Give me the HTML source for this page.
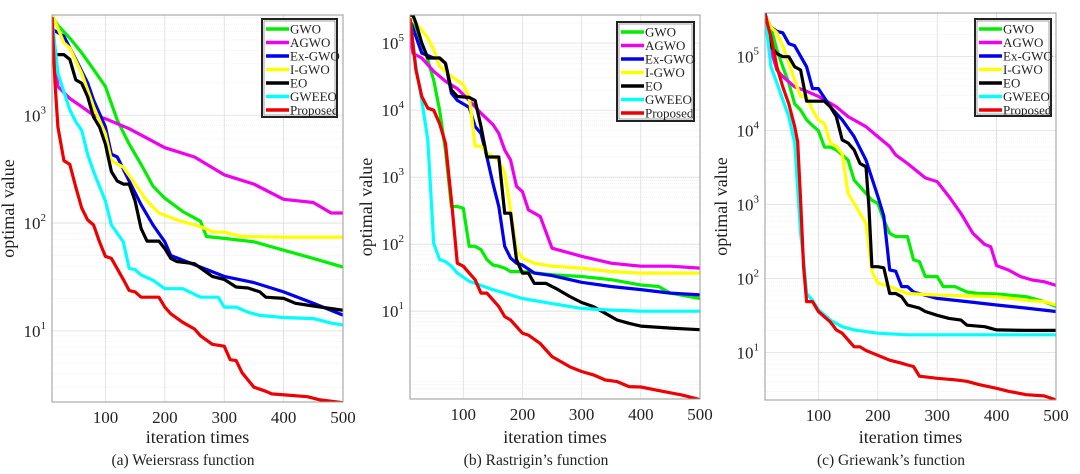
<!DOCTYPE html>
<html><head><meta charset="utf-8">
<style>
html,body{margin:0;padding:0;background:#fff;}
svg{display:block;}
svg text{font-family:"Liberation Serif","Times New Roman",serif;}
</style></head>
<body>
<svg id="fig" width="1080" height="474" viewBox="0 0 1080 474" xmlns="http://www.w3.org/2000/svg"></svg>
<script>
const seriesNames = ["GWO","AGWO","Ex-GWO","I-GWO","EO","GWEEO","Proposed"];
const seriesColors = ["#00ee00","#ee00ee","#0000ee","#ffff00","#000000","#00ffff","#ee0000"];
const xTicks = [100,200,300,400,500];

const wGWO=[[10,8300],[20,6800],[40,5200],[60,3800],[80,2650],[100,1850],[120,900],[140,540],[160,350],[180,220],[200,170],[230,128],[260,104],[270,75],[300,72],[350,67],[400,56],[450,47],[500,39]];
const wAGWO=[[10,5800],[20,1850],[40,1430],[60,1200],[80,1000],[100,930],[140,750],[200,500],[250,410],[300,280],[350,230],[400,166],[450,155],[480,124],[500,124]];
const wEx=[[10,6300],[30,5400],[50,3300],[70,2000],[80,1380],[100,780],[110,435],[120,410],[140,245],[160,148],[180,96],[200,67],[210,50],[250,41],[300,32],[350,28],[400,23],[450,18],[500,14]];
const wI=[[10,8700],[30,4700],[40,4200],[60,2450],[80,1200],[100,670],[110,380],[130,330],[150,230],[170,160],[190,124],[220,107],[260,93],[280,83],[300,82],[330,75],[400,74],[500,74]];
const wEO=[[10,8100],[15,3650],[30,3650],[40,3300],[50,2130],[60,1980],[70,1490],[80,960],[90,780],[100,540],[110,300],[120,245],[130,230],[140,230],[150,160],[160,89],[170,68],[190,68],[200,58],[210,47],[220,44],[250,42],[280,32],[300,30],[320,25.5],[340,25],[360,23],[370,20.5],[400,20],[420,18],[450,17],[500,15.5]];
const wGWEEO=[[10,7800],[20,2450],[40,1120],[50,870],[60,725],[70,435],[80,300],[100,160],[110,96],[130,67],[140,38],[150,37],[160,33],[180,29.5],[200,24.6],[230,24.6],[260,20.5],[290,20.5],[300,16.6],[320,16.6],[340,14.9],[360,13.9],[400,13.3],[450,13],[480,11.8],[500,11.3]];
const wProp=[[10,8100],[15,2000],[20,780],[30,380],[40,350],[50,215],[60,138],[70,107],[80,96],[90,67],[100,49],[110,47],[130,30],[140,23.7],[150,23],[160,20.5],[190,20.5],[200,16.6],[210,14.4],[230,12],[250,10.4],[260,9],[280,7.5],[300,7.2],[310,5.4],[320,5.3],[330,4.1],[350,3.0],[370,2.75],[380,2.6],[440,2.45],[460,2.3],[500,2.15]];

const rGWO=[[10,2.2e5],[20,1.6e5],[30,1e5],[40,5.6e4],[50,2.8e4],[60,1e4],[70,2500],[80,365],[90,365],[100,345],[110,93],[120,93],[130,83],[140,59],[150,49],[160,47],[170,44],[180,39],[200,39],[250,35],[300,33],[350,29.5],[400,24.6],[430,23.4],[450,18.6],[500,15.5]];
const rAGWO=[[10,1.4e5],[15,7e4],[30,6e4],[50,3.8e4],[70,2.7e4],[90,2.1e4],[110,1.4e4],[130,9000],[150,6100],[160,4500],[170,2550],[180,1800],[190,730],[200,610],[210,325],[220,290],[230,260],[250,87],[270,78],[300,66],[350,52],[400,47],[450,47],[500,44]];
const rEx=[[10,2.2e5],[20,1.26e5],[30,7.1e4],[50,6e4],[60,6e4],[70,5e4],[80,1.8e4],[90,1.4e4],[110,1.1e4],[120,5700],[130,4500],[140,2000],[150,810],[160,365],[170,93],[180,62],[190,52],[200,49],[220,37],[250,34],[300,27],[350,23.4],[400,21],[450,18.6],[500,17.5]];
const rI=[[10,2.35e5],[20,2e5],[40,1.2e5],[50,8e4],[60,4.5e4],[80,3.2e4],[100,2.4e4],[110,1.6e4],[120,2900],[130,2900],[140,2300],[160,1800],[170,1150],[180,325],[190,83],[200,62],[220,52],[250,47],[300,44],[350,39],[400,37],[500,37]];
const rEO=[[10,2.6e5],[15,2.6e5],[20,2e5],[30,1e5],[40,6e4],[60,6e4],[70,5e4],[80,2e4],[90,1.6e4],[110,1.55e4],[120,1.4e4],[130,5700],[140,2000],[160,2000],[170,290],[180,290],[190,59],[200,37],[210,37],[220,26],[240,26],[260,21],[280,16.6],[300,13.5],[320,11.7],[340,9.3],[360,7.4],[380,6.6],[400,6.0],[450,5.6],[500,5.3]];
const rGWEEO=[[10,2.35e5],[20,4.5e4],[30,1.4e4],[40,3600],[50,103],[60,59],[70,55],[80,47],[90,37],[110,28],[150,21],[200,15.5],[250,13],[300,11],[350,10.4],[400,10],[500,10]];
const rProp=[[10,2.35e5],[20,4e4],[30,1.6e4],[40,1.07e4],[50,1e4],[60,6300],[70,3200],[80,460],[90,52],[100,47],[110,37],[120,29.5],[130,18.6],[140,18.6],[160,11.7],[170,8.3],[180,7.4],[200,4.7],[210,4.4],[230,3.3],[250,2.1],[260,1.87],[280,1.48],[300,1.26],[320,1.12],[340,0.94],[360,0.89],[380,0.75],[400,0.74],[440,0.63],[470,0.56],[500,0.48]];

const gGWO=[[10,3.7e5],[20,2.5e5],[30,1.23e5],[40,7.3e4],[50,4.4e4],[60,2.3e4],[70,1.9e4],[80,1.4e4],[90,1.17e4],[100,1e4],[110,6000],[120,6000],[130,5500],[140,4700],[150,4000],[160,2150],[170,1750],[180,1420],[190,1150],[200,1040],[210,620],[220,410],[230,370],[250,370],[260,180],[270,170],[280,107],[300,107],[310,78],[330,78],[350,66],[370,63],[400,62],[450,57],[480,49],[500,42]];
const gAGWO=[[10,3.5e5],[20,1.23e5],[30,6.6e4],[40,5.4e4],[60,3.9e4],[80,3.4e4],[100,2.9e4],[130,2.1e4],[150,1.55e4],[180,1.13e4],[200,8300],[220,6100],[230,4700],[250,3600],[280,2300],[300,2050],[320,1280],[340,760],[360,410],[380,290],[390,270],[400,150],[420,131],[440,107],[460,96],[480,91],[500,81]];
const gEx=[[10,3.7e5],[20,2.5e5],[30,2.2e5],[40,2.1e5],[50,1.5e5],[60,1.4e5],[80,7.3e4],[90,3.7e4],[100,3.7e4],[120,2.1e4],[140,1.4e4],[160,8300],[180,4000],[200,1300],[210,700],[220,131],[230,126],[240,78],[250,78],[260,66],[300,54],[350,49],[400,44],[450,40],[500,36]];
const gI=[[10,3.7e5],[20,2.5e5],[30,2.1e5],[40,1.37e5],[50,8.1e4],[60,4.8e4],[70,2.9e4],[80,2.9e4],[90,1.9e4],[100,1.4e4],[110,1.25e4],[120,6800],[130,6100],[140,4900],[150,1420],[160,1040],[170,760],[180,560],[190,126],[200,87],[220,78],[250,63],[300,60],[400,57],[450,51],[480,49],[500,44]];
const gEO=[[10,3.9e5],[15,2.5e5],[20,1.37e5],[30,1.1e5],[40,1e5],[50,1e5],[60,7.3e4],[70,6.6e4],[80,2.5e4],[110,2.5e4],[120,2.1e4],[130,1.55e4],[140,7500],[150,6800],[160,5500],[170,3600],[180,3250],[185,940],[190,145],[200,145],[210,140],[220,63],[230,63],[240,57],[250,44],[270,40],[280,36],[300,32],[320,29],[340,27.5],[350,23.5],[380,22.4],[400,20.3],[450,20],[500,20]];
const gGWEEO=[[10,3.7e5],[20,7.3e4],[30,4.4e4],[40,2.6e4],[50,1.55e4],[60,6800],[70,410],[75,180],[80,63],[90,51],[100,38],[120,27.5],[140,22.4],[160,20.3],[200,18.3],[250,17.4],[300,17.4],[500,17.4]];
const gProp=[[10,3.7e5],[20,1.86e5],[30,7.3e4],[40,3.9e4],[50,2.3e4],[60,1.13e4],[65,7000],[70,1150],[75,145],[80,49],[90,49],[100,36],[120,26],[130,20.3],[140,18.3],[160,12],[170,12],[180,10.7],[200,9.2],[220,7.9],[240,7.2],[250,6.8],[260,6.5],[270,4.8],[300,4.5],[330,4.3],[350,4.1],[370,3.7],[400,3.3],[420,3.0],[450,2.7],[480,2.6],[500,2.3]];

const panels=[
 {id:"weierstrass",L:52,R:343,T:15,B:402,xmin:10,xmax:500,lmin:0.34,lmax:3.93,dec:[1,2,3],
  series:[wGWO,wAGWO,wEx,wI,wEO,wGWEEO,wProp],leg:[262,19,75,98],cap:"(a)  Weiersrass  function",capx:183},
 {id:"rastrigin",L:410,R:700,T:15,B:399,xmin:10,xmax:500,lmin:-0.31,lmax:5.42,dec:[1,2,3,4,5],
  series:[rGWO,rAGWO,rEx,rI,rEO,rGWEEO,rProp],leg:[617,22,77,99],cap:"(b)  Rastrigin’s  function",capx:536},
 {id:"griewank",L:765,R:1056,T:13,B:400,xmin:10,xmax:500,lmin:0.36,lmax:5.59,dec:[1,2,3,4,5],
  series:[gGWO,gAGWO,gEx,gI,gEO,gGWEEO,gProp],leg:[975,19,76,97],cap:"(c)  Griewank’s  function",capx:891}
];
const NS="http://www.w3.org/2000/svg";
const FONT="Liberation Serif, Times New Roman, serif";
const svg=document.getElementById('fig');
function mk(tag,attrs,parent){const e=document.createElementNS(NS,tag);for(const k in attrs)e.setAttribute(k,attrs[k]);if(tag==='text')e.setAttribute('font-family',FONT);(parent||svg).appendChild(e);return e;}

panels.forEach(p=>{
  const g=mk('g',{});
  
  
  const xs=v=>p.L+(v-p.xmin)/(p.xmax-p.xmin)*(p.R-p.L);
  const ys=v=>p.B-(Math.log10(v)-p.lmin)/(p.lmax-p.lmin)*(p.B-p.T);
  for(let d=Math.floor(p.lmin);d<=Math.ceil(p.lmax);d++){
    for(let m=2;m<=9;m++){const lv=d+Math.log10(m);if(lv<=p.lmin||lv>=p.lmax)continue;
      const y=ys(Math.pow(10,lv));
      const l=mk('line',{x1:p.L,x2:p.R,y1:y,y2:y,stroke:"#ececec","stroke-width":0.7,"stroke-dasharray":"1,1"},g);
      
      
    }
  }
  p.dec.forEach(d=>{const y=ys(Math.pow(10,d));
    const l=mk('line',{x1:p.L,x2:p.R,y1:y,y2:y,stroke:"#dddddd","stroke-width":0.8},g);
    
    
    const t=mk('text',{x:p.L-6,y:y+6,"text-anchor":"end","font-size":17,fill:"#222"},g);
    
    
    t.textContent="10";
    const s=mk('tspan',{dy:-8,"font-size":11},t);s.textContent=d;
  });
  xTicks.forEach(v=>{const x=xs(v);
    const l=mk('line',{x1:x,x2:x,y1:p.T,y2:p.B,stroke:"#dddddd","stroke-width":0.8},g);
    
    
    const t=mk('text',{x:x,y:p.B+21,"text-anchor":"middle","font-size":17,fill:"#222"},g);
    
    
    t.textContent=v;
  });
  const clip=mk('clipPath',{id:'c'+p.id},g);mk('rect',{x:p.L,y:p.T,width:p.R-p.L,height:p.B-p.T},clip);
  const lg=mk('g',{"clip-path":"url(#c"+p.id+")"},g);
  p.series.forEach((s,i)=>{
    const pl=mk('polyline',{points:s.map(q=>xs(q[0]).toFixed(1)+","+ys(q[1]).toFixed(1)).join(" "),fill:"none",stroke:seriesColors[i],"stroke-width":3.2,"stroke-linejoin":"round"},lg);
    
    
  });
  const ax=mk('rect',{x:p.L,y:p.T,width:p.R-p.L,height:p.B-p.T,fill:"none",stroke:"#999","stroke-width":1},g);
  
  
  const [lx,ly,lw,lh]=p.leg;
  const lgd=mk('g',{},g);
  
  
  mk('rect',{x:lx,y:ly,width:lw,height:lh,fill:"#fff",stroke:"#222","stroke-width":2},lgd);
  mk('rect',{x:lx+2,y:ly+2,width:lw-4,height:lh-4,fill:"none",stroke:"#666","stroke-width":0.6},lgd);
  seriesNames.forEach((n,i)=>{const y=ly+10+i*13.5;
    const e=mk('g',{},lgd);
    
    
    mk('line',{x1:lx+4,x2:lx+27,y1:y,y2:y,stroke:seriesColors[i],"stroke-width":3.5},e);
    const t=mk('text',{x:lx+28,y:y+4.5,"font-size":13,fill:"#222"},e);t.textContent=n;
  });
  const xt=mk('text',{x:(p.L+p.R)/2,y:443,"text-anchor":"middle","font-size":18,fill:"#222"},g);
  
  
  xt.textContent="iteration times";
  const cx=p.L-38,cy=(p.T+p.B)/2;
  const yt=mk('text',{x:cx,y:cy,"text-anchor":"middle","font-size":18,fill:"#222",transform:"rotate(-90 "+cx+" "+cy+")"},g);
  
  
  yt.textContent="optimal value";
  const cp=mk('text',{x:p.capx,y:465,"text-anchor":"middle","font-size":15.5,fill:"#222"},g);
  
  
  cp.textContent=p.cap;
});
</script>
</body></html>
